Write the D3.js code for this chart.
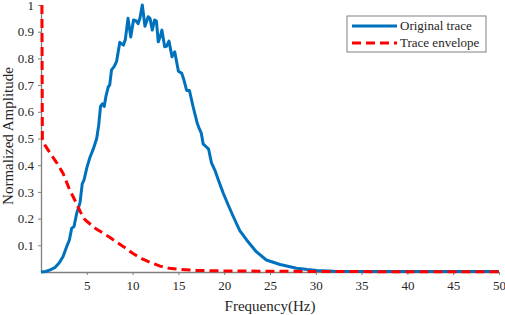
<!DOCTYPE html>
<html lang="en">
<head>
<meta charset="utf-8">
<title>Normalized spectrum</title>
<script src="https://d3js.org/d3.v7.min.js"></script>
<style>
  body { margin: 0; background: #fff; }
  .tick text { font-family: "Liberation Serif", serif; font-size: 13px; fill: #262626; }
  .lbl { font-family: "Liberation Serif", serif; fill: #262626; }
</style>
</head>
<body>
<script>
// original trace spectrum (frequency in Hz, normalized amplitude)
const traceFreq = [0, 0.5, 1, 1.5, 2, 2.4, 2.8, 3.1, 3.35, 3.6, 3.9, 4.26, 4.5, 4.7, 5.0, 5.35, 5.7, 6.08, 6.3, 6.5, 6.7, 6.9, 7.1, 7.35, 7.5, 7.7, 8.0, 8.26, 8.6, 8.8, 9.0, 9.2, 9.5, 9.8, 10.1, 10.4, 10.6, 10.8, 11.06, 11.35, 11.7, 11.9, 12.15, 12.4, 12.6, 12.8, 13.0, 13.2, 13.5, 13.7, 13.97, 14.3, 14.6, 15.0, 15.36, 15.6, 15.9, 16.2, 16.6, 17.06, 17.3, 17.5, 17.7, 18.0, 18.3, 18.6, 19.0, 19.36, 19.9, 20.45, 21.0, 21.7, 22.45, 23.5, 24.6, 26.1, 27.9, 29.1, 30.1, 32, 35, 40, 45, 50];
const traceAmp = [0, 0.002, 0.008, 0.016, 0.035, 0.057, 0.095, 0.12, 0.164, 0.17, 0.22, 0.26, 0.33, 0.345, 0.39, 0.43, 0.46, 0.5, 0.55, 0.62, 0.63, 0.62, 0.66, 0.694, 0.7, 0.757, 0.77, 0.79, 0.86, 0.855, 0.85, 0.87, 0.95, 0.88, 0.944, 0.94, 0.93, 0.95, 1.0, 0.92, 0.956, 0.95, 0.906, 0.944, 0.94, 0.862, 0.88, 0.906, 0.844, 0.845, 0.865, 0.806, 0.825, 0.752, 0.744, 0.72, 0.68, 0.68, 0.62, 0.557, 0.535, 0.52, 0.48, 0.47, 0.46, 0.41, 0.38, 0.345, 0.295, 0.25, 0.207, 0.155, 0.12, 0.076, 0.045, 0.028, 0.014, 0.009, 0.006, 0.003, 0.002, 0.002, 0.002, 0.002];

// trace envelope
const envFreq = [0.1, 0.15, 0.45, 1.0, 1.7, 2.4, 3.1, 3.9, 4.3, 4.7, 5.0, 6.0, 7.5, 9.0, 10.0, 11.0, 12.0, 13.0, 14.0, 15.0, 17.0, 20.0, 25.0, 30.0, 40.0, 50.0];
const envAmp = [1, 0.5, 0.474, 0.445, 0.41, 0.37, 0.31, 0.255, 0.225, 0.2, 0.19, 0.162, 0.13, 0.095, 0.07, 0.05, 0.035, 0.022, 0.014, 0.01, 0.006, 0.004, 0.003, 0.002, 0.001, 0.001];

const xTicks = [5, 10, 15, 20, 25, 30, 35, 40, 45, 50];
const yTicks = [0.1, 0.2, 0.3, 0.4, 0.5, 0.6, 0.7, 0.8, 0.9, 1];
const seriesNames = ["Original trace", "Trace envelope"];

const w = 505, h = 315;
const margin = {left: 41, right: 6, top: 5, bottom: 43};

const svg = d3.select("body").append("svg")
  .attr("width", w).attr("height", h);

const x = d3.scaleLinear().domain([0, 50]).range([margin.left, w - margin.right]);
const y = d3.scaleLinear().domain([0, 1]).range([h - margin.bottom, margin.top]);

// axes
const xAxis = svg.append("g")
  .attr("transform", "translate(0," + y(0) + ")")
  .call(d3.axisBottom(x).tickValues(xTicks).tickSize(3).tickPadding(6).tickSizeOuter(0));
const yAxis = svg.append("g")
  .attr("transform", "translate(" + x(0) + ",0)")
  .call(d3.axisLeft(y).tickValues(yTicks).tickFormat(d3.format("")).tickSize(3).tickPadding(4).tickSizeOuter(0));
[xAxis, yAxis].forEach(a => {
  a.select(".domain").attr("stroke", "#808080").attr("stroke-width", 1.3);
  a.selectAll(".tick line").attr("stroke", "#808080");
});

const line = d3.line().x(d => x(d[0])).y(d => y(d[1]));

svg.append("path")
  .datum(traceFreq.map((f, i) => [f, traceAmp[i]]))
  .attr("fill", "none")
  .attr("stroke", "#0072bd")
  .attr("stroke-width", 3)
  .attr("stroke-linejoin", "round")
  .attr("d", line);

svg.append("path")
  .datum(envFreq.map((f, i) => [f, envAmp[i]]))
  .attr("fill", "none")
  .attr("stroke", "#ff0000")
  .attr("stroke-width", 3)
  .attr("stroke-dasharray", "9,5")
  .attr("d", line);

// axis labels
svg.append("text")
  .attr("class", "lbl")
  .attr("x", (x(0) + x(50)) / 2)
  .attr("y", 311)
  .attr("text-anchor", "middle")
  .attr("font-size", "15px")
  .text("Frequency(Hz)");

svg.append("text")
  .attr("class", "lbl")
  .attr("transform", "translate(13," + 136 + ") rotate(-90)")
  .attr("text-anchor", "middle")
  .attr("font-size", "15px")
  .text("Normalized Amplitude");

// legend
const lg = svg.append("g").attr("transform", "translate(347,16)");
lg.append("rect")
  .attr("width", 139).attr("height", 36)
  .attr("fill", "#fff").attr("stroke", "#808080");
const styles = [{c: "#0072bd", dash: null}, {c: "#ff0000", dash: "9,5"}];
seriesNames.forEach((name, i) => {
  lg.append("line")
    .attr("x1", 5).attr("x2", 50)
    .attr("y1", 10 + i * 17).attr("y2", 10 + i * 17)
    .attr("stroke", styles[i].c).attr("stroke-width", 3)
    .attr("stroke-dasharray", styles[i].dash);
  lg.append("text")
    .attr("class", "lbl")
    .attr("x", 53).attr("y", 14 + i * 17)
    .attr("font-size", "13px")
    .text(name);
});
</script>
</body>
</html>
